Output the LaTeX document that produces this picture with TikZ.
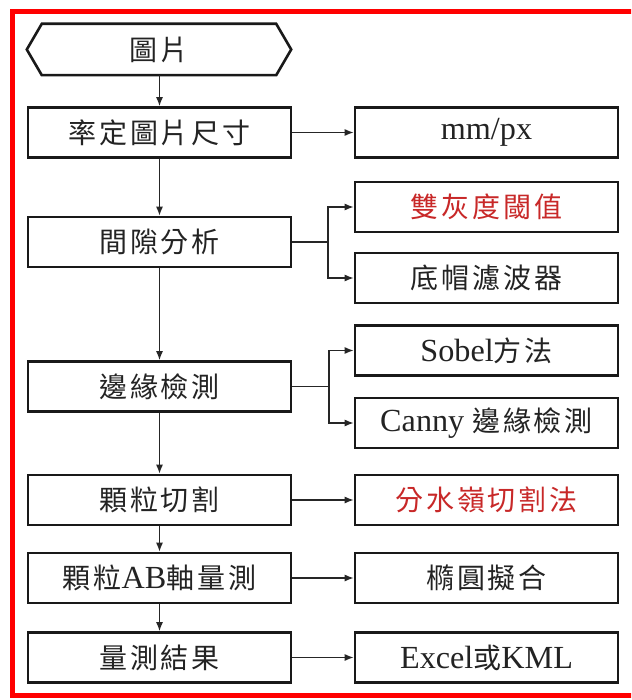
\documentclass[tikz,border=0pt]{standalone}
\usepackage{fontspec}
\setmainfont{Liberation Serif}[Scale=1.15]
\newfontfamily\cjk[LetterSpace=10]{Noto Sans CJK TC}
\newcommand\zh[1]{{\cjk #1}}
\usetikzlibrary{arrows.meta}
\definecolor{txt}{RGB}{35,35,35}
\definecolor{hl}{RGB}{200,40,40}
\tikzset{
  boxline/.style={line width=2.6pt, draw=black!90},
  stepbox/.style={boxline, rectangle, minimum width=263pt, minimum height=50pt,
    inner sep=0pt, text=txt, font=\fontsize{28}{32}\selectfont, anchor=center},
  hexbox/.style={rectangle, minimum width=264pt, minimum height=51pt,
    inner sep=0pt, text=txt, font=\fontsize{28}{32}\selectfont, anchor=center},
  conn/.style={line width=1.3pt, draw=black!85, -{Latex[length=9pt,width=7pt]}},
  plain/.style={line width=1.3pt, draw=black!85},
}
\begin{document}
\begin{tikzpicture}[x=1pt,y=-1pt]
\useasboundingbox (0,0) rectangle (631,700);
\clip (0,0) rectangle (631,700);
\fill[white] (0,0) rectangle (631,700);
\draw[red, line width=5pt] (12.5,11.5) rectangle (660,695.5);

% left column
\node[hexbox] (img) at (159,49.5) {\zh{圖片}};
\draw[boxline] (img.west) -- ([xshift=15pt]img.north west) -- ([xshift=-15pt]img.north east)
  -- (img.east) -- ([xshift=-15pt]img.south east) -- ([xshift=15pt]img.south west) -- cycle;
\node[stepbox] (cal) at (159.5,132.5) {\zh{率定圖片尺寸}};
\node[stepbox] (gap) at (159.5,242) {\zh{間隙分析}};
\node[stepbox] (edge) at (159.5,386.5) {\zh{邊緣檢測}};
\node[stepbox] (seg) at (159.5,500) {\zh{顆粒切割}};
\node[stepbox] (ab) at (159.5,578) {\zh{顆粒}AB\zh{軸量測}};
\node[stepbox] (res) at (159.5,657.5) {\zh{量測結果}};

% right column
\node[stepbox] (mm) at (486.5,132.5) {mm/px};
\node[stepbox, text=hl] (dual) at (486.5,207) {\zh{雙灰度閾值}};
\node[stepbox] (tophat) at (486.5,278) {\zh{底帽濾波器}};
\node[stepbox] (sobel) at (486.5,350.5) {Sobel\zh{方法}};
\node[stepbox] (canny) at (486.5,423) {Canny \zh{邊緣檢測}};
\node[stepbox, text=hl] (ws) at (486.5,500) {\zh{分水嶺切割法}};
\node[stepbox] (ell) at (486.5,578) {\zh{橢圓擬合}};
\node[stepbox] (xls) at (486.5,657.5) {Excel\zh{或}KML};

% vertical flow
\draw[conn] (img.south -| cal.north) -- (cal.north);
\draw[conn] (cal) -- (gap);
\draw[conn] (gap) -- (edge);
\draw[conn] (edge) -- (seg);
\draw[conn] (seg) -- (ab);
\draw[conn] (ab) -- (res);

% horizontal
\draw[conn] (cal) -- (mm);
\draw[conn] (seg) -- (ws);
\draw[conn] (ab) -- (ell);
\draw[conn] (res) -- (xls);

% branches
\coordinate (j1) at (328,242);
\draw[plain] (gap.east) -- (j1);
\draw[conn] (j1) |- (dual.west);
\draw[conn] (j1) |- (tophat.west);
\coordinate (j2) at (329,386.5);
\draw[plain] (edge.east) -- (j2);
\draw[conn] (j2) |- (sobel.west);
\draw[conn] (j2) |- (canny.west);
\end{tikzpicture}
\end{document}
